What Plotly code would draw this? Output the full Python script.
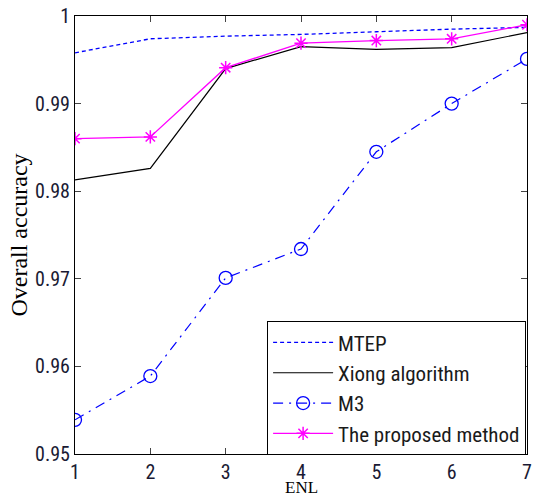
import plotly.graph_objects as go

enl = [1, 2, 3, 4, 5, 6, 7]
mtep = [0.9958, 0.9974, 0.9977, 0.9979, 0.9982, 0.9985, 0.9987]
xiong = [0.9813, 0.9826, 0.9940, 0.9965, 0.9962, 0.9964, 0.9981]
m3 = [0.9539, 0.9589, 0.9701, 0.9734, 0.9845, 0.9900, 0.9951]
proposed = [0.9860, 0.9862, 0.9941, 0.9969, 0.9972, 0.9974, 0.9990]

x_ticks = [1, 2, 3, 4, 5, 6, 7]
y_ticks = [0.95, 0.96, 0.97, 0.98, 0.99, 1.0]
y_tick_labels = ["0.95", "0.96", "0.97", "0.98", "0.99", "1"]

narrow = "Liberation Sans Narrow, Arial Narrow, Roboto Condensed, Liberation Sans, Arial"
serif = "Liberation Serif, Times New Roman, serif"
tickfont = dict(family=narrow, size=20, color="#1a1a33")

fig = go.Figure()
fig.add_trace(go.Scatter(x=enl, y=mtep, mode="lines", name="MTEP", legendgroup="a",
                         line=dict(color="#0000ff", width=1.3, dash="4px,3px")))
fig.add_trace(go.Scatter(x=enl, y=xiong, mode="lines", name="Xiong algorithm", legendgroup="b",
                         line=dict(color="#000000", width=1.2)))
fig.add_trace(go.Scatter(x=enl, y=m3, mode="lines+markers", name="M3", legendgroup="c",
                         line=dict(color="#0000ff", width=1.2, dash="10px,6px,2px,6px"),
                         marker=dict(symbol="circle-open", size=13, color="#0000ff",
                                     line=dict(width=1.3, color="#0000ff"))))
fig.add_trace(go.Scatter(x=enl, y=proposed, mode="lines+markers", name="The proposed method", legendgroup="d",
                         line=dict(color="#ff00ff", width=1.3),
                         marker=dict(symbol="asterisk-open", size=11, color="#ff00ff",
                                     line=dict(width=1.5, color="#ff00ff"))))

fig.update_layout(
    width=535, height=499,
    margin=dict(l=75, r=3, t=16, b=45),
    paper_bgcolor="white", plot_bgcolor="white",
    showlegend=True,
    legend=dict(x=0.425, y=0.303, xanchor="left", yanchor="top",
                bgcolor="white", bordercolor="black", borderwidth=1,
                font=dict(family=narrow, size=21, color="#1a1a1a"),
                itemwidth=60, tracegroupgap=0),
    xaxis=dict(range=[1, 7], tickvals=x_ticks, ticks="inside", ticklen=6,
               showline=True, linecolor="black", linewidth=1, mirror="ticks",
               showgrid=False, zeroline=False, tickfont=tickfont,
               ticklabelstandoff=0, ticklabeloverflow="allow"),
    yaxis=dict(range=[0.95, 1.0], tickvals=y_ticks, ticktext=y_tick_labels, ticks="inside", ticklen=6,
               showline=True, linecolor="black", linewidth=1, mirror="ticks",
               showgrid=False, zeroline=False, tickfont=tickfont,
               title=dict(text="Overall accuracy", font=dict(family=serif, size=24, color="black"),
                          standoff=0)),
    annotations=[dict(text="ENL", xref="paper", yref="paper", x=0.5, y=-0.1,
                      xanchor="center", yanchor="bottom", showarrow=False, borderpad=0,
                      font=dict(family=serif, size=17, color="black"))],
)

fig.write_html("out.html", config={"displayModeBar": False},
               post_script="document.body.style.margin='0';")
